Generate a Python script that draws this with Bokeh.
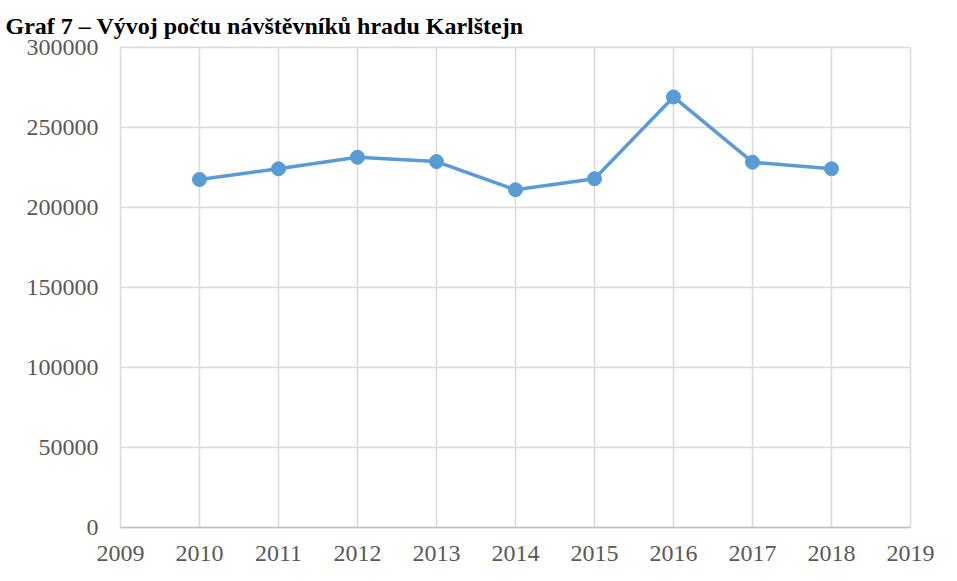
from bokeh.plotting import figure
from bokeh.models import Range1d, FixedTicker, BasicTickFormatter, Title
from bokeh.embed import file_html
from bokeh.resources import INLINE

# ---- data ----
years = [2010, 2011, 2012, 2013, 2014, 2015, 2016, 2017, 2018]
visitors = [217500, 224200, 231400, 228700, 211100, 218000, 269100, 228300, 224200]
x_ticks = [2009, 2010, 2011, 2012, 2013, 2014, 2015, 2016, 2017, 2018, 2019]
y_ticks = [0, 50000, 100000, 150000, 200000, 250000, 300000]
title_text = "Graf 7 – Vývoj počtu návštěvníků hradu Karlštejn"

LABEL_FONT = "Liberation Serif"
GRID = "#d9d9d9"
LINE = "#5b9bd5"

p = figure(width=941, height=565, output_backend="svg", toolbar_location=None,
           title=None,
           x_range=Range1d(x_ticks[0], x_ticks[-1]),
           y_range=Range1d(y_ticks[0], y_ticks[-1]),
           min_border_left=120, min_border_right=31,
           min_border_top=47, min_border_bottom=38)
p.background_fill_color = "white"
p.border_fill_color = "white"
p.outline_line_color = GRID
p.outline_line_width = 1.5

# caption above the chart
p.add_layout(Title(text=title_text, align="left", offset=-115, standoff=18,
                   text_font=LABEL_FONT, text_font_style="bold",
                   text_font_size="24px", text_color="black"), "above")

# axes
for ax in (p.xaxis[0], p.yaxis[0]):
    ax.major_tick_line_color = None
    ax.minor_tick_line_color = None
    ax.major_label_text_font = LABEL_FONT
    ax.major_label_text_font_size = "24px"
    ax.major_label_text_color = "#595959"
p.xaxis.ticker = FixedTicker(ticks=x_ticks)
p.yaxis.ticker = FixedTicker(ticks=y_ticks)
p.yaxis.formatter = BasicTickFormatter(use_scientific=False)
p.xaxis.formatter = BasicTickFormatter(use_scientific=False)
p.xaxis.axis_line_color = "#bfbfbf"
p.xaxis.axis_line_width = 1.5
p.yaxis.axis_line_color = None
p.xaxis.major_label_standoff = 12
p.yaxis.major_label_standoff = 16

# grid
p.xgrid.ticker = FixedTicker(ticks=x_ticks)
p.ygrid.ticker = FixedTicker(ticks=y_ticks)
p.grid.grid_line_color = GRID
p.grid.grid_line_width = 1.5

# series
p.line(years, visitors, line_color=LINE, line_width=3.5)
p.scatter(years, visitors, size=14, fill_color=LINE, line_color=LINE)

open("out.html", "w").write(file_html(p, INLINE))
